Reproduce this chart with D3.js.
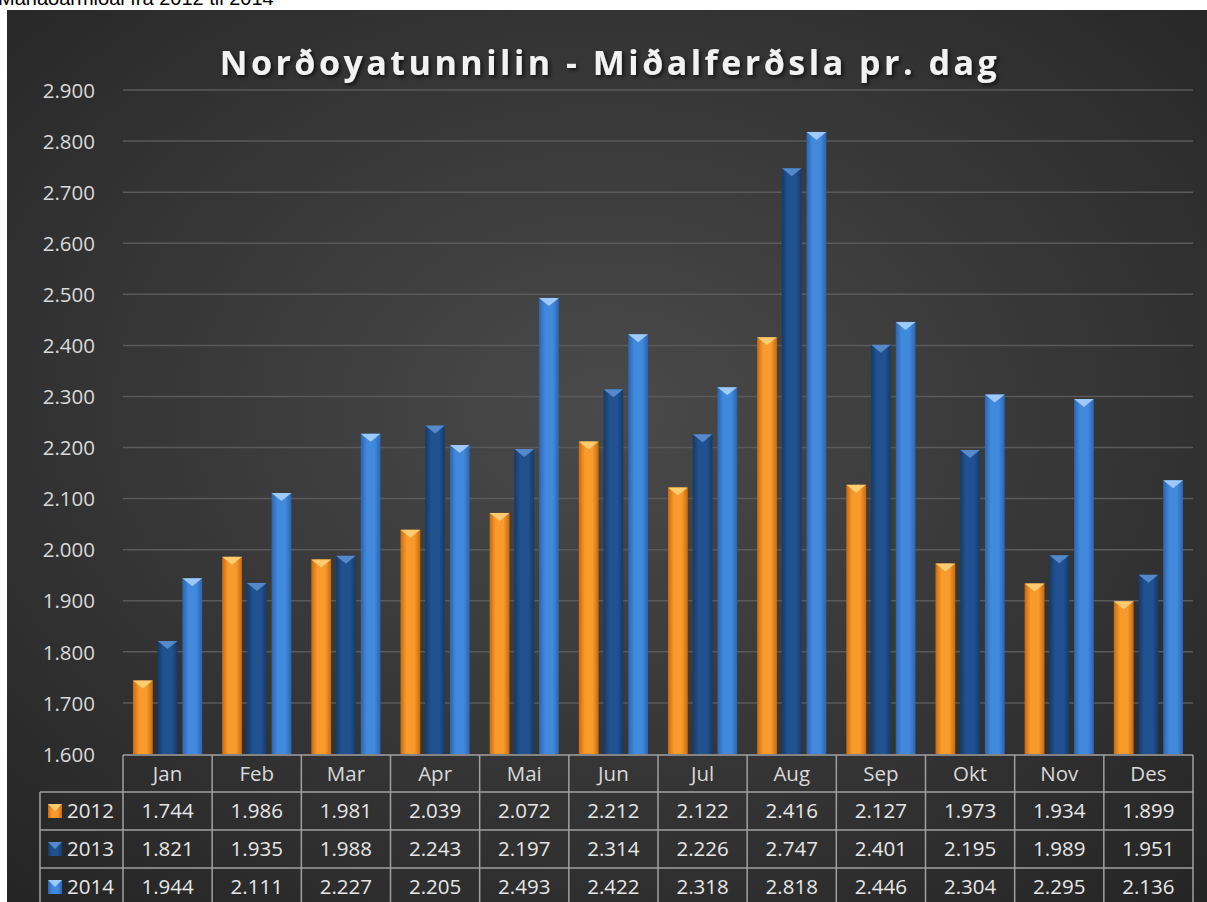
<!DOCTYPE html>
<html><head><meta charset="utf-8">
<script src="https://cdn.jsdelivr.net/npm/d3@7"></script>
<style>body{margin:0;background:#fff;}svg{display:block;}</style>
</head><body>
<svg id="c" width="1207" height="902"></svg>
<script>
const months = ["Jan","Feb","Mar","Apr","Mai","Jun","Jul","Aug","Sep","Okt","Nov","Des"];
const seriesNames = ["2012","2013","2014"];
const v2012 = [1744,1986,1981,2039,2072,2212,2122,2416,2127,1973,1934,1899];
const v2013 = [1821,1935,1988,2243,2197,2314,2226,2747,2401,2195,1989,1951];
const v2014 = [1944,2111,2227,2205,2493,2422,2318,2818,2446,2304,2295,2136];
const yTicks = [1600,1700,1800,1900,2000,2100,2200,2300,2400,2500,2600,2700,2800,2900];
const seriesValues = [v2012, v2013, v2014];
const title = "Norðoyatunnilin - Miðalferðsla pr. dag";
const topNote = "Mánaðarmiðal frá 2012 til 2014";

const svg = d3.select("#c");
const defs = svg.append("defs");
const fmt = v => (v/1000).toFixed(3);
const fmtTick = v => (v/1000).toFixed(3);

// background
const bg = defs.append("radialGradient").attr("id","bg").attr("cx","50%").attr("cy","45%").attr("r","75%");
bg.append("stop").attr("offset","0%").attr("stop-color","#4a4a4a");
bg.append("stop").attr("offset","100%").attr("stop-color","#242424");
svg.append("rect").attr("x",7).attr("y",10).attr("width",1200).attr("height",892).attr("fill","url(#bg)");

svg.append("text").attr("x",-2).attr("y",5).attr("font-family","Liberation Sans, Arial").attr("font-size",20).attr("fill","#000").text(topNote);

const colors = [
  {edge:"#c96a0c", mid:"#f99a2c", tri:"#ffd27a"},
  {edge:"#153a68", mid:"#215290", tri:"#5b8fd0"},
  {edge:"#2a65b0", mid:"#4189dc", tri:"#a9d0ff"}
];
colors.forEach((c,i)=>{
  const g = defs.append("linearGradient").attr("id","g"+i).attr("x1","0").attr("x2","1").attr("y1","0").attr("y2","0");
  g.append("stop").attr("offset","0%").attr("stop-color",c.edge);
  g.append("stop").attr("offset","30%").attr("stop-color",c.mid);
  g.append("stop").attr("offset","70%").attr("stop-color",c.mid);
  g.append("stop").attr("offset","100%").attr("stop-color",c.edge);
});

const shadow = defs.append("filter").attr("id","sh").attr("x","-10%").attr("y","-30%").attr("width","120%").attr("height","160%");
shadow.append("feDropShadow").attr("dx",2).attr("dy",2).attr("stdDeviation",2).attr("flood-color","#000").attr("flood-opacity",0.7);

const left = 123, right = 1193;
const y = d3.scaleLinear().domain([1600,2900]).range([754,90]);
const x = d3.scaleBand().domain(months).range([left,right]).paddingInner(0).paddingOuter(0);
const xs = d3.scaleBand().domain(seriesNames).range([10, x.bandwidth()-10]).paddingInner(0.2);

// gridlines
svg.append("g").selectAll("line").data(yTicks.slice(1)).join("line")
  .attr("x1",left).attr("x2",right).attr("y1",d=>y(d)).attr("y2",d=>y(d))
  .attr("stroke","#5a5a5a").attr("stroke-width",1.5);

const tf = "Open Sans, Noto Sans, sans-serif";
// y axis labels
const yAxis = d3.axisLeft(y).tickValues(yTicks).tickFormat(fmtTick).tickSize(0).tickPadding(0);
const ya = svg.append("g").attr("transform","translate(95,0)").call(yAxis);
ya.select(".domain").remove();
ya.selectAll("text").attr("font-family",tf).attr("font-size",20.5).attr("fill","#d9d9d9").attr("dy","0.35em");

// title
svg.append("text").attr("x",610).attr("y",75).attr("text-anchor","middle")
  .attr("font-family",tf).attr("font-weight","bold").attr("font-size",34)
  .attr("letter-spacing",3.5).attr("fill","#f2f2f2").attr("filter","url(#sh)").text(title);

// bars
seriesValues.forEach((vals,si)=>{
  const g = svg.append("g");
  const data = months.map((m,i)=>({m, v: vals[i]}));
  const bw = xs.bandwidth();
  g.selectAll("rect").data(data).join("rect")
    .attr("x",d=>x(d.m)+xs(seriesNames[si])).attr("y",d=>y(d.v))
    .attr("width",bw).attr("height",d=>y(1600)-y(d.v)).attr("fill","url(#g"+si+")");
  g.selectAll("path").data(data).join("path")
    .attr("d",d=>{const x0=x(d.m)+xs(seriesNames[si]); const y0=y(d.v);
      return `M${x0},${y0}L${x0+bw},${y0}L${x0+bw/2},${y0+8}Z`;})
    .attr("fill",colors[si].tri).attr("opacity",0.9);
});

// data table
const rowY = [755, 792, 830, 868, 906];
const tg = svg.append("g");
const lineC = "#a0a0a0";
tg.append("line").attr("x1",left).attr("x2",right).attr("y1",rowY[0]).attr("y2",rowY[0]).attr("stroke",lineC).attr("stroke-width",1.5);
rowY.slice(1,4).forEach(yy=>tg.append("line").attr("x1",40).attr("x2",right).attr("y1",yy).attr("y2",yy).attr("stroke",lineC).attr("stroke-width",1.5));
const vx = months.map(m=>x(m)).concat([right]);
vx.forEach(xx=>tg.append("line").attr("x1",xx).attr("x2",xx).attr("y1",rowY[0]).attr("y2",902).attr("stroke",lineC).attr("stroke-width",1.5));
tg.append("line").attr("x1",40).attr("x2",40).attr("y1",rowY[1]).attr("y2",902).attr("stroke",lineC).attr("stroke-width",1.5);

tg.selectAll("text.h").data(months).join("text").attr("class","h")
  .attr("x",d=>x(d)+x.bandwidth()/2).attr("y",(rowY[0]+rowY[1])/2).attr("dy","0.35em")
  .attr("text-anchor","middle").attr("font-family",tf).attr("font-size",20.5).attr("fill","#d9d9d9").text(d=>d);
seriesValues.forEach((vals,si)=>{
  const cy = (rowY[si+1]+rowY[si+2])/2;
  tg.append("g").selectAll("text").data(vals).join("text")
    .attr("x",(d,i)=>x(months[i])+x.bandwidth()/2).attr("y",cy).attr("dy","0.35em")
    .attr("text-anchor","middle").attr("font-family",tf).attr("font-size",20.5).attr("fill","#e6e6e6").text(d=>fmt(d));
  tg.append("rect").attr("x",48).attr("y",cy-7).attr("width",14).attr("height",14).attr("fill","url(#g"+si+")");
  tg.append("path").attr("d",`M48,${cy-7}L62,${cy-7}L55,${cy}Z`).attr("fill",colors[si].tri).attr("opacity",0.9);
  tg.append("text").attr("x",67).attr("y",cy).attr("dy","0.35em").attr("font-family",tf).attr("font-size",20.5).attr("fill","#e6e6e6").text(seriesNames[si]);
});
</script>
</body></html>
